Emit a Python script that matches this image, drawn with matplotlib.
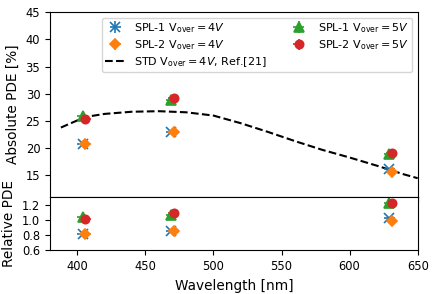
import matplotlib
matplotlib.use("Agg")
import matplotlib.pyplot as plt
import numpy as np

# Data
wl_spl1 = [404, 469, 629]
wl_spl2 = [406, 471, 631]
abs_spl1_4v = [20.8, 22.9, 16.2]
abs_spl2_4v = [20.7, 22.9, 15.6]
abs_spl1_5v = [25.9, 28.8, 19.0]
abs_spl2_5v = [25.4, 29.3, 19.2]
rel_spl1_4v = [0.82, 0.85, 1.03]
rel_spl2_4v = [0.82, 0.85, 0.99]
rel_spl1_5v = [1.04, 1.07, 1.22]
rel_spl2_5v = [1.01, 1.09, 1.23]
std_wl = [388, 400, 410, 420, 440, 460, 480, 500, 520, 540, 560, 580, 600, 620, 640, 650]
std_pde = [23.8, 25.1, 25.9, 26.3, 26.7, 26.8, 26.6, 26.0, 24.6, 23.0, 21.3, 19.7, 18.3, 16.8, 15.2, 14.5]
xerr_nm = 4
yerr_abs = 0.2
yerr_rel = 0.01

labels = [r'SPL-1 V$_{\rm over}=4V$', r'SPL-2 V$_{\rm over}=4V$',
          r'SPL-1 V$_{\rm over}=5V$', r'SPL-2 V$_{\rm over}=5V$']
std_label = r'STD V$_{\rm over}=4V$, Ref.[21]'

plt.rcParams['font.family'] = ['DejaVu Sans']

fig = plt.figure(figsize=(4.36, 2.94), dpi=100)
left, right = 0.1147, 0.958
ax1 = fig.add_axes([left, 0.329, right - left, 0.959 - 0.329])
ax2 = fig.add_axes([left, 0.1486, right - left, 0.329 - 0.1486], sharex=ax1)

series = [
    (wl_spl1, abs_spl1_4v, rel_spl1_4v, 'C0', 'x', 6.5),
    (wl_spl2, abs_spl2_4v, rel_spl2_4v, 'C1', 'D', 5.5),
    (wl_spl1, abs_spl1_5v, rel_spl1_5v, 'C2', '^', 7),
    (wl_spl2, abs_spl2_5v, rel_spl2_5v, 'C3', 'o', 6),
]

std_line, = ax1.plot(std_wl, std_pde, 'k--', lw=1.5, label=std_label, zorder=1)
handles = []
for (x, ya, yr, c, m, ms), lab in zip(series, labels):
    h = ax1.errorbar(x, ya, xerr=xerr_nm, yerr=yerr_abs, fmt=m, color=c, ms=ms,
                     mew=1.2, elinewidth=1.2, label=lab, zorder=2)
    ax2.errorbar(x, yr, xerr=xerr_nm, yerr=yerr_rel, fmt=m, color=c, ms=ms,
                 mew=1.2, elinewidth=1.2, zorder=2)
    handles.append(h)

ax1.set_xlim(380, 650)
ax1.set_ylim(11, 45)
ax1.set_yticks([15, 20, 25, 30, 35, 40, 45])
ax2.set_ylim(0.6, 1.3)
ax2.set_yticks([0.6, 0.8, 1.0, 1.2])
ax2.set_xticks([400, 450, 500, 550, 600, 650])
plt.setp(ax1.get_xticklabels(), visible=False)

for ax in (ax1, ax2):
    ax.tick_params(labelsize=8.3)

ax1.set_ylabel('Absolute PDE [%]', fontsize=9.8)
ax2.set_ylabel('Relative PDE', fontsize=9.8)
ax2.set_xlabel('Wavelength [nm]', fontsize=9.8)
fig.align_ylabels([ax1, ax2])

ax1.legend([handles[0], handles[1], std_line, handles[2], handles[3]],
           [labels[0], labels[1], std_label, labels[2], labels[3]],
           ncol=2, loc='upper right', fontsize=8.0, markerscale=1.0,
           handlelength=1.8, columnspacing=2.0, labelspacing=0.3,
           borderpad=0.3)

fig.savefig('out.png', dpi=100)
